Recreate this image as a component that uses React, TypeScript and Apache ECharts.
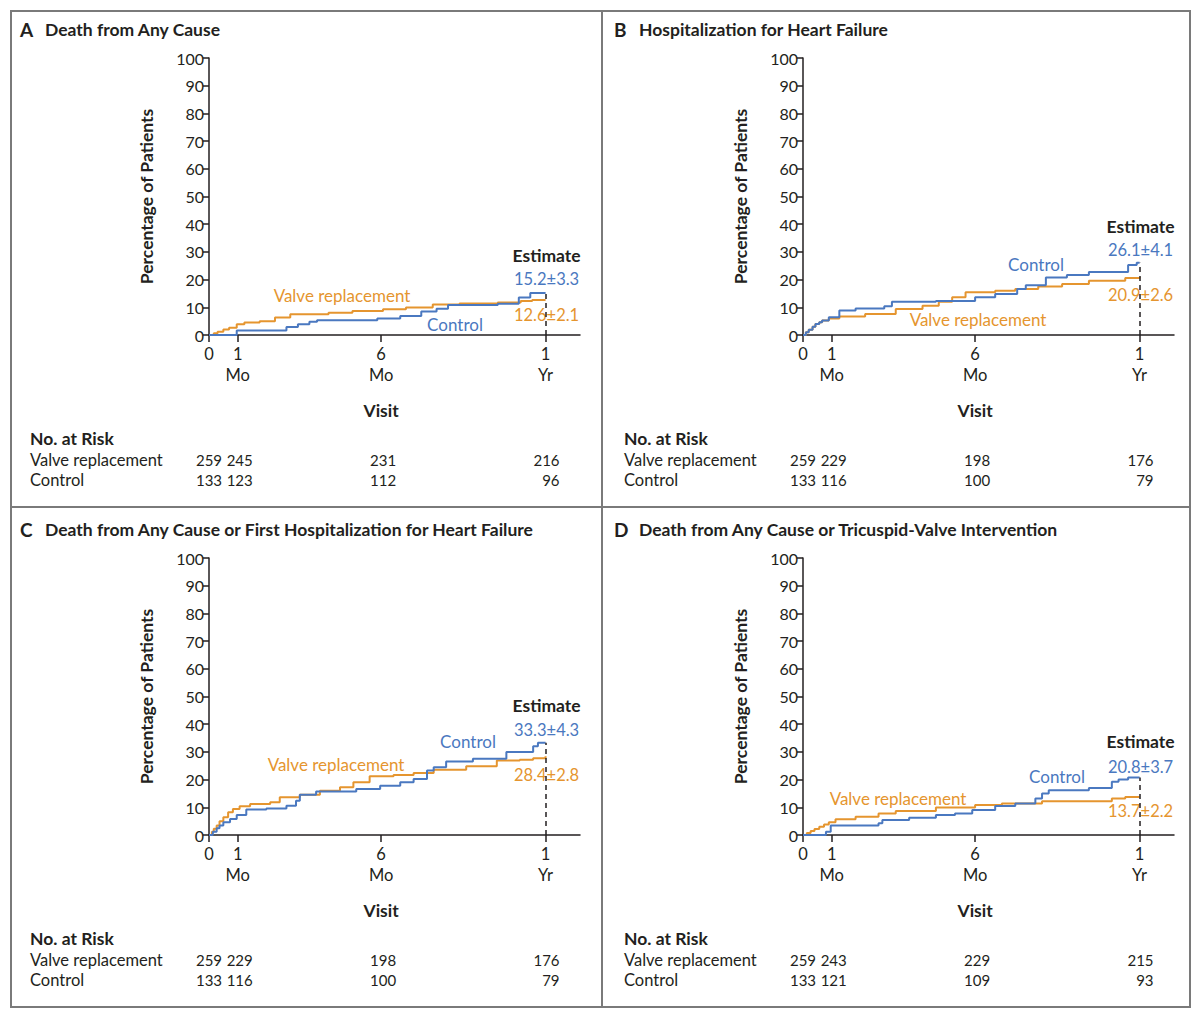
import React, { useEffect, useRef } from "react";
import * as echarts from "echarts";

const BLUE = "#4a78c0";
const ORANGE = "#e5952f";
const INK = "#231f20";
const FRAME = "#7a7a7a";
const FONT = "Lato, 'Noto Sans', sans-serif";

// x axis is in days; visit ticks
const xTickDays = [0, 30, 180, 352];
const xTickTop = ["0", "1", "6", "1"];
const xTickUnit = ["", "Mo", "Mo", "Yr"];
const X_MAX = 388;

// A: Death from any cause
const aValveT = [0, 5, 9, 15, 21, 29, 37, 53, 69, 85, 125, 150, 182, 206, 234, 262, 302, 326, 338, 352];
const aValveY = [0, 0.6, 1.2, 2.0, 2.6, 3.9, 4.5, 5.0, 6.3, 7.5, 8.0, 8.7, 9.3, 9.9, 11.0, 11.4, 11.7, 12.3, 12.6, 12.6];
const aCtrlT = [0, 29, 81, 93, 105, 113, 176, 200, 222, 238, 250, 302, 324, 336, 352];
const aCtrlY = [0, 1.6, 2.9, 3.9, 4.8, 5.3, 6.0, 6.9, 8.5, 9.5, 10.8, 11.3, 13.5, 15.2, 15.2];

// B: Hospitalization for heart failure
const bValveT = [0, 3, 6, 10, 13, 17, 20, 27, 38, 65, 97, 125, 142, 156, 170, 201, 222, 246, 271, 299, 337, 352];
const bValveY = [0, 1.0, 1.9, 3.0, 4.0, 4.6, 5.2, 6.0, 6.7, 7.6, 9.4, 10.6, 12.0, 13.6, 15.4, 16.0, 16.6, 17.5, 18.4, 19.6, 20.6, 20.9];
const bCtrlT = [0, 3, 6, 10, 13, 17, 20, 27, 38, 55, 85, 93, 139, 180, 201, 224, 233, 254, 276, 299, 340, 349, 352];
const bCtrlY = [0, 1.0, 1.9, 3.0, 4.0, 4.6, 5.2, 6.4, 8.8, 9.6, 10.4, 12.0, 12.3, 13.6, 14.8, 16.6, 18.0, 20.8, 21.7, 22.7, 25.3, 26.1, 26.1];

// C: Death or first HF hospitalization
const cValveT = [0, 3, 5, 8, 11, 15, 20, 25, 32, 43, 64, 74, 95, 116, 137, 151, 168, 193, 214, 235, 269, 301, 325, 339, 352];
const cValveY = [0, 1.2, 2.3, 3.4, 5.0, 6.4, 8.2, 9.4, 10.4, 11.2, 11.8, 13.6, 14.5, 16.0, 17.2, 19.0, 21.2, 21.7, 22.4, 23.6, 24.8, 26.9, 27.2, 27.7, 28.4];
const cCtrlT = [0, 4, 8, 11, 15, 22, 29, 39, 60, 81, 91, 95, 112, 154, 179, 200, 214, 228, 235, 248, 276, 311, 339, 344, 352];
const cCtrlY = [0, 1.2, 2.4, 3.4, 4.6, 5.8, 7.2, 9.2, 9.6, 10.6, 12.4, 14.5, 15.7, 16.6, 17.8, 19.0, 20.2, 23.3, 24.5, 26.5, 27.5, 30.0, 32.0, 33.3, 33.3];

// D: Death or tricuspid-valve intervention
const dValveT = [0, 4, 8, 12, 17, 22, 27, 34, 55, 79, 97, 139, 180, 208, 250, 323, 337, 352];
const dValveY = [0, 0.7, 1.4, 2.2, 3.0, 3.8, 4.6, 5.7, 6.6, 7.8, 8.7, 9.9, 10.8, 11.4, 12.2, 13.2, 13.7, 13.7];
const dCtrlT = [0, 24, 29, 79, 83, 111, 139, 159, 177, 201, 222, 243, 250, 257, 299, 323, 330, 340, 352];
const dCtrlY = [0, 1.2, 3.4, 4.2, 5.4, 6.2, 7.2, 7.8, 9.0, 10.5, 11.4, 13.2, 15.0, 16.2, 17.0, 19.2, 20.0, 20.8, 20.8];

// numbers at risk
const aRiskValve = [259, 245, 231, 216];
const aRiskCtrl = [133, 123, 112, 96];
const bRiskValve = [259, 229, 198, 176];
const bRiskCtrl = [133, 116, 100, 79];
const cRiskValve = [259, 229, 198, 176];
const cRiskCtrl = [133, 116, 100, 79];
const dRiskValve = [259, 243, 229, 215];
const dRiskCtrl = [133, 121, 109, 93];

const estimates = [
  ["15.2±3.3", "12.6±2.1"],
  ["26.1±4.1", "20.9±2.6"],
  ["33.3±4.3", "28.4±2.8"],
  ["20.8±3.7", "13.7±2.2"],
];

const GRID_W = 371;
const GRID_H = 277;

const panels = [
  {
    letter: "A", title: "Death from Any Cause", ox: 0, oy: 0,
    valve: [aValveT, aValveY], ctrl: [aCtrlT, aCtrlY], risk: [aRiskValve, aRiskCtrl],
    estY: [197, 221, 257], vrPos: [133, 237], ctPos: [246, 266],
  },
  {
    letter: "B", title: "Hospitalization for Heart Failure", ox: 594, oy: 0,
    valve: [bValveT, bValveY], ctrl: [bCtrlT, bCtrlY], risk: [bRiskValve, bRiskCtrl],
    estY: [168, 192, 237], vrPos: [175, 261], ctPos: [233, 206],
  },
  {
    letter: "C", title: "Death from Any Cause or First Hospitalization for Heart Failure", ox: 0, oy: 500,
    valve: [cValveT, cValveY], ctrl: [cCtrlT, cCtrlY], risk: [cRiskValve, cRiskCtrl],
    estY: [147, 172, 217], vrPos: [127, 206], ctPos: [259, 183],
  },
  {
    letter: "D", title: "Death from Any Cause or Tricuspid-Valve Intervention", ox: 594, oy: 500,
    valve: [dValveT, dValveY], ctrl: [dCtrlT, dCtrlY], risk: [dRiskValve, dRiskCtrl],
    estY: [183, 209, 253], vrPos: [95, 240], ctPos: [254, 218],
  },
];

const txt = (text: string, x: number, y: number, o: any = {}) => ({
  type: "text",
  silent: true,
  style: {
    text,
    x,
    y,
    fill: o.fill || INK,
    fontSize: o.size || 16.5,
    fontWeight: o.weight || "normal",
    fontFamily: FONT,
    textAlign: o.align || "left",
    textVerticalAlign: "middle",
  },
});

const App = () => {
  const ref = useRef<HTMLDivElement>(null);

  useEffect(() => {
    document.body.style.margin = "0";
    if (!ref.current) return;
    const chart = echarts.init(ref.current, null, { renderer: "svg" });

    const grids: any[] = [];
    const xAxes: any[] = [];
    const yAxes: any[] = [];
    const series: any[] = [];
    const graphic: any[] = [];

    const axisLine = { show: true, lineStyle: { color: INK, width: 1.5 } };

    panels.forEach((p, i) => {
      const left = 209 + p.ox;
      const top = 58 + p.oy;
      const xOf = (d: number) => left + (d * GRID_W) / X_MAX;

      grids.push({ left, top, width: GRID_W, height: GRID_H, containLabel: false });
      xAxes.push({
        gridIndex: i,
        type: "value",
        min: 0,
        max: X_MAX,
        axisLine,
        splitLine: { show: false },
        axisTick: { show: true, customValues: xTickDays, length: 7, lineStyle: { color: INK, width: 1.5 } },
        axisLabel: {
          customValues: xTickDays,
          color: INK,
          fontSize: 16.5,
          fontFamily: FONT,
          lineHeight: 21,
          margin: 8,
          formatter: (v: number) => {
            const k = xTickDays.indexOf(v);
            if (k < 0) return "";
            return xTickUnit[k] ? `${xTickTop[k]}\n${xTickUnit[k]}` : xTickTop[k];
          },
        },
      });
      yAxes.push({
        gridIndex: i,
        type: "value",
        min: 0,
        max: 100,
        interval: 10,
        axisLine,
        splitLine: { show: false },
        axisTick: { show: true, length: 6, lineStyle: { color: INK, width: 1.5 } },
        axisLabel: { color: INK, fontSize: 16, fontFamily: FONT, margin: 5 },
        name: "Percentage of Patients",
        nameLocation: "middle",
        nameGap: 54,
        nameTextStyle: { color: INK, fontSize: 17.5, fontWeight: "bold", fontFamily: FONT },
      });

      const [vt, vy] = p.valve;
      const [ct, cy] = p.ctrl;
      const endTop = Math.max(vy[vy.length - 1], cy[cy.length - 1]);

      series.push({
        type: "line",
        name: "Valve replacement",
        xAxisIndex: i,
        yAxisIndex: i,
        step: "end",
        symbol: "none",
        silent: true,
        data: vt.map((d, k) => [d, vy[k]]),
        lineStyle: { color: ORANGE, width: 2 },
        itemStyle: { color: ORANGE },
        z: 3,
        markLine: {
          silent: true,
          symbol: "none",
          label: { show: false },
          lineStyle: { color: INK, type: [5, 4], width: 1.5 },
          data: [[{ coord: [xTickDays[3], 0] }, { coord: [xTickDays[3], endTop] }]],
        },
      });
      series.push({
        type: "line",
        name: "Control",
        xAxisIndex: i,
        yAxisIndex: i,
        step: "end",
        symbol: "none",
        silent: true,
        data: ct.map((d, k) => [d, cy[k]]),
        lineStyle: { color: BLUE, width: 2 },
        itemStyle: { color: BLUE },
        z: 4,
      });

      // titles
      graphic.push(txt(p.letter, 20 + p.ox, 29 + p.oy, { size: 19, weight: "bold" }));
      graphic.push(txt(p.title, 45 + p.ox, 29 + p.oy, { size: 17.5, weight: "bold" }));

      // estimate block
      const ex = xOf(xTickDays[3]) + 1;
      graphic.push(txt("Estimate", ex, top + p.estY[0], { size: 17.5, weight: "bold", align: "center" }));
      graphic.push(txt(estimates[i][0], ex, top + p.estY[1], { fill: BLUE, align: "center" }));
      graphic.push(txt(estimates[i][1], ex, top + p.estY[2], { fill: ORANGE, align: "center" }));

      // curve labels
      graphic.push(txt("Valve replacement", left + p.vrPos[0], top + p.vrPos[1], { fill: ORANGE, align: "center", size: 17 }));
      graphic.push(txt("Control", left + p.ctPos[0], top + p.ctPos[1], { fill: BLUE, align: "center", size: 17 }));

      // x axis title
      graphic.push(txt("Visit", xOf(xTickDays[2]), 410 + p.oy, { size: 17.5, weight: "bold", align: "center" }));

      // risk table
      graphic.push(txt("No. at Risk", 30 + p.ox, 438 + p.oy, { size: 17.5, weight: "bold" }));
      graphic.push(txt("Valve replacement", 30 + p.ox, 460 + p.oy));
      graphic.push(txt("Control", 30 + p.ox, 480 + p.oy));
      p.risk.forEach((row, r) => {
        row.forEach((n, k) => {
          const last = k === row.length - 1;
          const x = last ? xOf(xTickDays[k]) + 14 : xOf(xTickDays[k]) + (k === 0 ? 0 : 2);
          graphic.push(
            txt(String(n), x, 460 + r * 20 + p.oy, { align: last ? "right" : "center", size: 15 })
          );
        });
      });
    });

    // panel frame
    graphic.push({
      type: "rect",
      silent: true,
      shape: { x: 11, y: 11, width: 1179, height: 996 },
      style: { fill: "none", stroke: FRAME, lineWidth: 2 },
    });
    graphic.push({
      type: "line",
      silent: true,
      shape: { x1: 602, y1: 11, x2: 602, y2: 1007 },
      style: { stroke: FRAME, lineWidth: 2 },
    });
    graphic.push({
      type: "line",
      silent: true,
      shape: { x1: 11, y1: 507, x2: 1190, y2: 507 },
      style: { stroke: FRAME, lineWidth: 2 },
    });

    chart.setOption({
      animation: false,
      backgroundColor: "#ffffff",
      grid: grids,
      xAxis: xAxes,
      yAxis: yAxes,
      series,
      graphic,
    });

    return () => {
      chart.dispose();
    };
  }, []);

  return <div ref={ref} style={{ width: "1200px", height: "1018px" }} />;
};

export default App;
